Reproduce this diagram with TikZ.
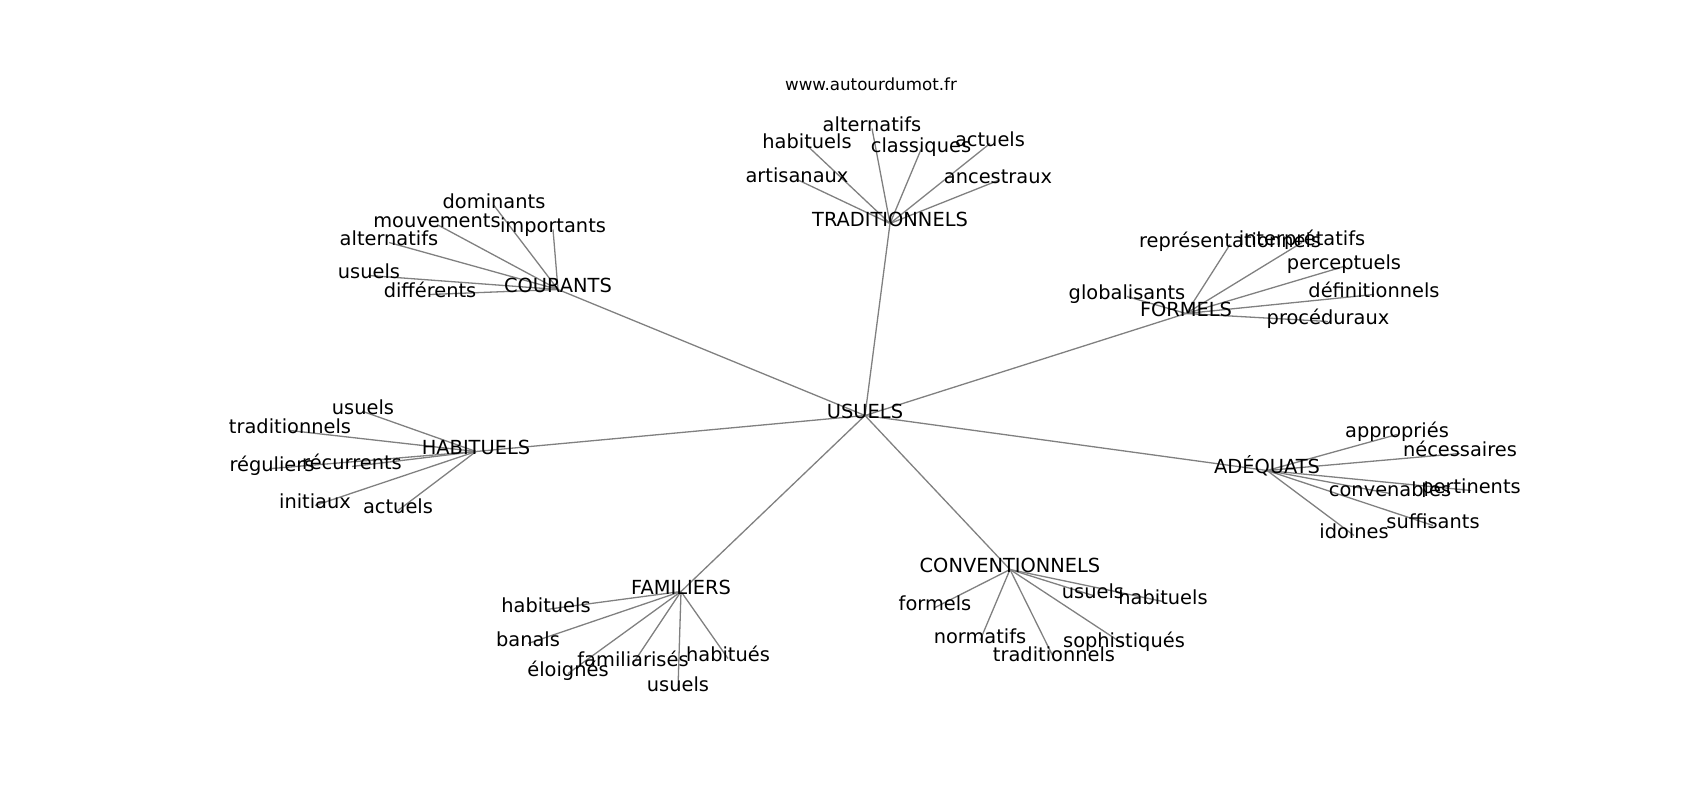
\documentclass[tikz,border=0pt]{standalone}
\usepackage{fontspec}
\setmainfont{DejaVu Sans}
\usetikzlibrary{backgrounds}
\tikzset{
  lbl/.style={inner sep=0pt, text height=0.76em, text depth=0.208em, anchor=center, font=\fontsize{19.4pt}{22pt}\selectfont},
  small/.style={inner sep=0pt, text height=0.76em, text depth=0.208em, anchor=center, font=\fontsize{16.7pt}{19pt}\selectfont},
  edge/.style={draw=black!50, line width=1.3pt}
}
\begin{document}
\begin{tikzpicture}[x=1pt,y=-1pt]
\useasboundingbox (0,0) rectangle (1700,800);
\begin{scope}[shift={(0,4.5)}]
\node[small] (w) at (871,83) {www.autourdumot.fr};
\node[lbl] (u) at (865,411) {USUELS};
% TRADITIONNELS
\node[lbl] (t) at (890,219) {TRADITIONNELS};
\node[lbl] (t1) at (872,124) {alternatifs};
\node[lbl] (t2) at (807,141) {habituels};
\node[lbl] (t3) at (921,145) {classiques};
\node[lbl] (t4) at (990,139) {actuels};
\node[lbl] (t5) at (797,175) {artisanaux};
\node[lbl] (t6) at (998,176) {ancestraux};
% COURANTS
\node[lbl] (c) at (558,285) {COURANTS};
\node[lbl] (c1) at (494,201) {dominants};
\node[lbl] (c2) at (437,220) {mouvements};
\node[lbl] (c3) at (553,225) {importants};
\node[lbl] (c4) at (389,238) {alternatifs};
\node[lbl] (c5) at (369,271) {usuels};
\node[lbl] (c6) at (430,290) {différents};
% FORMELS
\node[lbl] (f) at (1186,309) {FORMELS};
\node[lbl] (f1) at (1230,240) {représentationnels};
\node[lbl] (f2) at (1302,238) {interprétatifs};
\node[lbl] (f3) at (1344,262) {perceptuels};
\node[lbl] (f4) at (1374,290) {définitionnels};
\node[lbl] (f5) at (1328,317) {procéduraux};
\node[lbl] (f6) at (1127,292) {globalisants};
% HABITUELS
\node[lbl] (h) at (476,447) {HABITUELS};
\node[lbl] (h1) at (363,407) {usuels};
\node[lbl] (h2) at (290,426) {traditionnels};
\node[lbl] (h3) at (272,464) {réguliers};
\node[lbl] (h4) at (352,462) {récurrents};
\node[lbl] (h5) at (315,501) {initiaux};
\node[lbl] (h6) at (398,506) {actuels};
% ADEQUATS
\node[lbl] (a) at (1267,466) {ADÉQUATS};
\node[lbl] (a1) at (1397,430) {appropriés};
\node[lbl] (a2) at (1460,449) {nécessaires};
\node[lbl] (a3) at (1471,486) {pertinents};
\node[lbl] (a4) at (1390,489) {convenables};
\node[lbl] (a5) at (1433,521) {suffisants};
\node[lbl] (a6) at (1354,531) {idoines};
% FAMILIERS
\node[lbl] (m) at (681,587) {FAMILIERS};
\node[lbl] (m1) at (546,605) {habituels};
\node[lbl] (m2) at (528,639) {banals};
\node[lbl] (m3) at (568,669) {éloignés};
\node[lbl] (m4) at (633,659) {familiarisés};
\node[lbl] (m5) at (728,654) {habitués};
\node[lbl] (m6) at (678,684) {usuels};
% CONVENTIONNELS
\node[lbl] (v) at (1010,565) {CONVENTIONNELS};
\node[lbl] (v1) at (935,603) {formels};
\node[lbl] (v2) at (1093,591) {usuels};
\node[lbl] (v3) at (1163,597) {habituels};
\node[lbl] (v4) at (980,636) {normatifs};
\node[lbl] (v5) at (1054,654) {traditionnels};
\node[lbl] (v6) at (1124,640) {sophistiqués};
\begin{pgfonlayer}{background}
\foreach \hub in {t,c,f,h,a,m,v} {
  \draw[edge] (u.center) -- (\hub.center);
  \foreach \k in {1,...,6} {
    \draw[edge] (\hub.center) -- (\hub\k.center);
  }
}
\end{pgfonlayer}
\end{scope}
\end{tikzpicture}
\end{document}
